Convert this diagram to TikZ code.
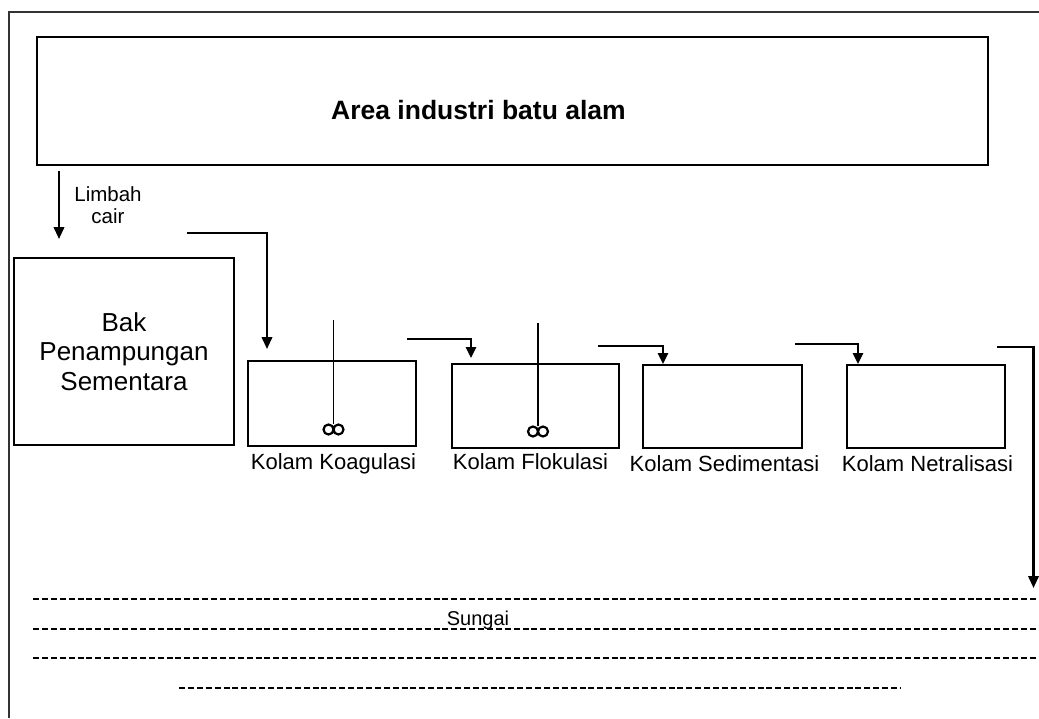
\documentclass[tikz,border=0pt]{standalone}
\usepackage{fontspec}
\setmainfont{Liberation Sans}
\usetikzlibrary{arrows.meta}
\begin{document}
\begin{tikzpicture}[x=1pt,y=-1pt,
  pool/.style={draw,line width=1.4pt,inner sep=0pt},
  poollabel/.style={anchor=base,inner sep=0pt,font=\fontsize{22}{26}\selectfont},
  flow/.style={line width=1.5pt,-{Triangle[length=11pt,width=10.5pt]}},
  mainflow/.style={line width=2.2pt,-{Triangle[length=12pt,width=10.5pt]}},
  river/.style={line width=2.4pt,dash pattern=on 6pt off 2.9pt},
  shaft/.style={line width=1.3pt},
  blade/.style={line width=2.2pt}]
\useasboundingbox (0,0) rectangle (1039,718);
% outer frame
\draw[line width=1.2pt,black!80] (9,718) -- (9,12) -- (1040,12);

% industry area
\node[pool,minimum width=951pt,minimum height=128pt] (area) at (512.5,101) {};
\node[anchor=base,inner sep=0pt,font=\fontsize{26.5}{30}\selectfont\bfseries] (areatext) at (478.5,119) {Area industri batu alam};

% holding tank
\node[pool,minimum width=220pt,minimum height=187pt,align=center,
  font=\fontsize{26}{29.5}\selectfont] (bak) at (124,351.5) {Bak\\Penampungan\\Sementara};

% treatment pools
\node[pool,minimum width=168pt,minimum height=85pt] (koag) at (332,403.5) {};
\node[pool,minimum width=167pt,minimum height=84pt] (flok) at (535.5,406) {};
\node[pool,minimum width=159pt,minimum height=83pt] (sed) at (722.5,406.5) {};
\node[pool,minimum width=158pt,minimum height=83pt] (net) at (926,406.5) {};

\node[poollabel] (koagl) at (333.5,469) {Kolam Koagulasi};
\node[poollabel] (flokl) at (530.5,469) {Kolam Flokulasi};
\node[poollabel] (sedl) at (724.5,471) {Kolam Sedimentasi};
\node[poollabel] (netl) at (927.5,471) {Kolam Netralisasi};

% stirrers
\coordinate (s1top) at (333.5,320);
\coordinate (s1hub) at (333.5,424);
\draw[shaft] (s1top) -- (s1hub);
\draw[blade] (328.5,429.5) circle (5pt) (338.5,429.5) circle (5pt);
\coordinate (s2top) at (538,323);
\coordinate (s2hub) at (538,426);
\draw[shaft] (s2top) -- (s2hub);
\draw[blade] (533,431.5) circle (5pt) (543,431.5) circle (5pt);

% wastewater flow
\coordinate (w0) at (59,171);
\coordinate (w1) at (59,239);
\draw[mainflow] (w0) -- (w1);
\node[align=center,inner sep=0pt,font=\fontsize{20.5}{22}\selectfont] (limbah) at (108,205) {Limbah\\cair};

\coordinate (c1) at (187,233);
\draw[line width=1.2pt] (c1) -- (267,233);
\draw[mainflow] (267,232.4) -- (267,349);
\coordinate (c2) at (407,339);
\draw[flow] (c2) -- (471,339) -- (471,358);
\coordinate (c3) at (598,346);
\draw[flow] (c3) -- (663,346) -- (663,364);
\coordinate (c4) at (795,344);
\draw[flow] (c4) -- (858,344) -- (858,364);
\coordinate (c5) at (997,347);
\coordinate (c6) at (1033.5,588);
\draw[line width=1.2pt] (c5) -- (1033.5,347);
\draw[mainflow] (1033.5,346.4) -- (c6);

% river
\draw[river] (33,599) -- (1040,599);
\draw[river] (33,629) -- (1040,629);
\draw[river] (33,658) -- (1040,658);
\draw[river] (179,688) -- (900,688);
\node[anchor=base,inner sep=0pt,font=\fontsize{20}{22}\selectfont] (sungai) at (478,625) {Sungai};
\end{tikzpicture}
\end{document}
